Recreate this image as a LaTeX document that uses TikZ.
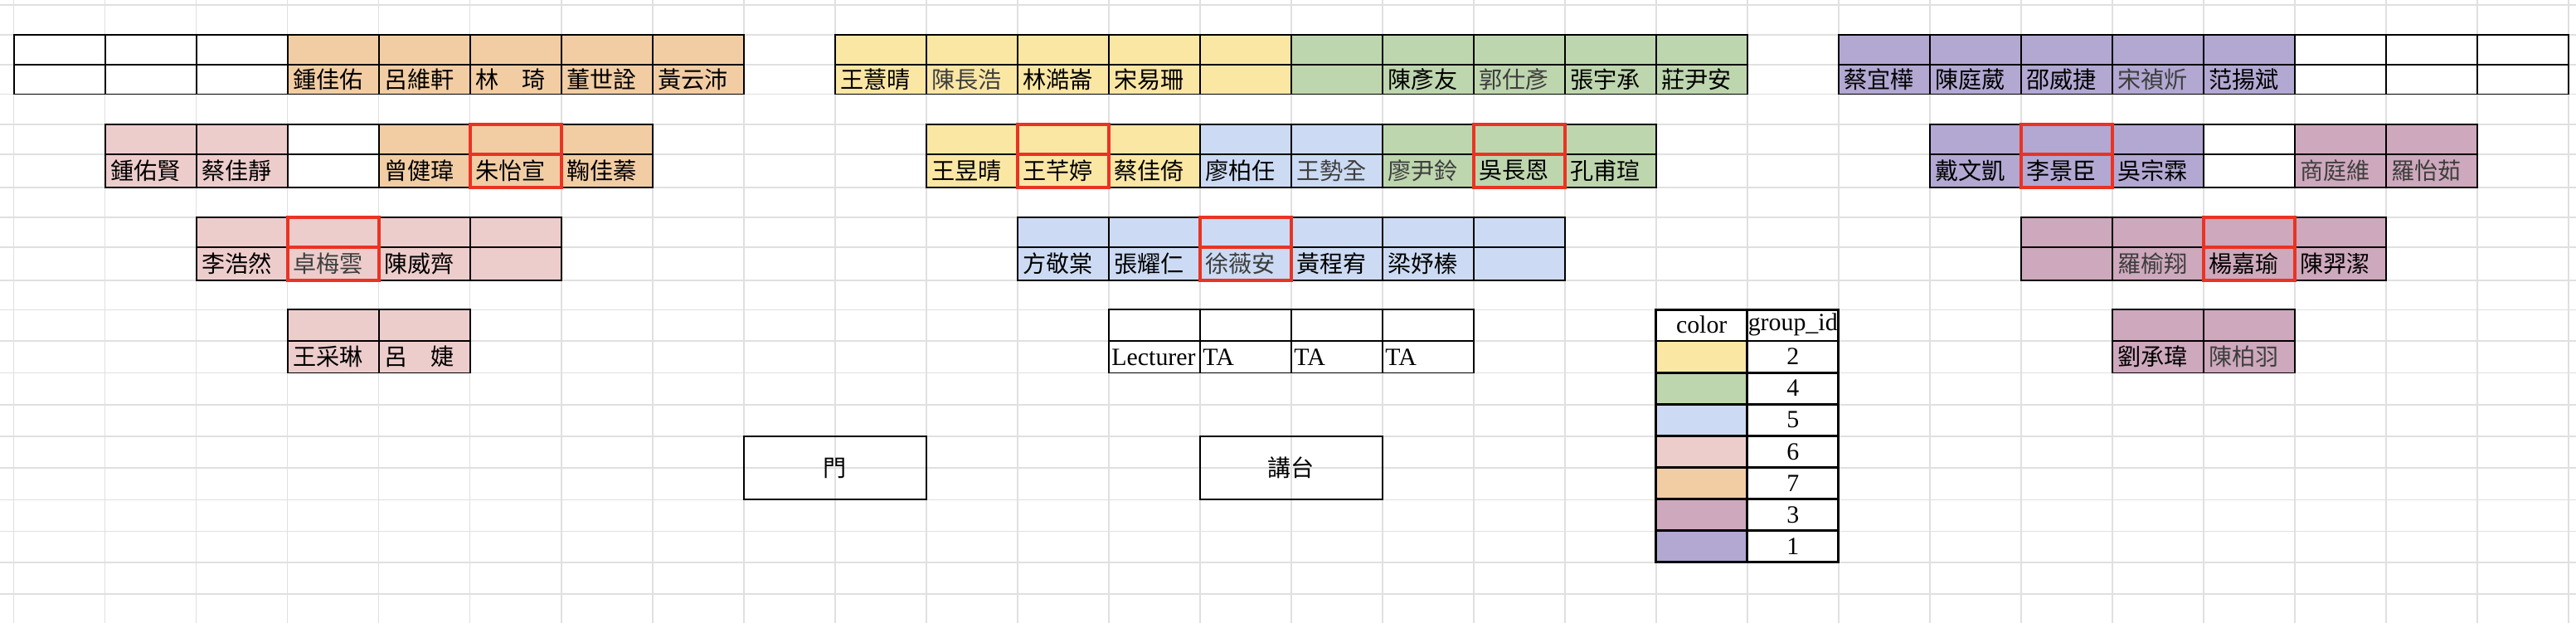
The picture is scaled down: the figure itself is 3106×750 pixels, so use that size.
\documentclass[tikz,border=0pt]{standalone}
\usepackage{fontspec}
\newfontfamily\cjk{Noto Sans CJK TC}
\newfontfamily\timesfont{Liberation Serif}
\definecolor{gridgrey}{RGB}{224,224,224}
\definecolor{pickred}{RGB}{234,51,35}
\definecolor{namegrey}{RGB}{62,62,62}
\definecolor{grpone}{RGB}{178,168,210}
\definecolor{grptwo}{RGB}{251,231,164}
\definecolor{grpthree}{RGB}{206,168,188}
\definecolor{grpfour}{RGB}{190,214,174}
\definecolor{grpfive}{RGB}{204,219,243}
\definecolor{grpsix}{RGB}{237,205,204}
\definecolor{grpseven}{RGB}{242,205,164}
\newcommand{\faint}[1]{\textcolor{namegrey}{#1}}
\tikzset{
  gridline/.style={draw=gridgrey,line width=0.45pt},
  seat/.style={draw=black,line width=0.55pt},
  pick/.style={draw=pickred,line width=1.25pt},
  keyline/.style={draw=black,line width=0.8pt},
  nametext/.style={anchor=west,inner sep=0pt,font=\cjk\fontsize{8}{9}\selectfont},
  roletext/.style={anchor=west,inner sep=0pt,font=\timesfont\fontsize{8.5}{9}\selectfont},
  keytext/.style={inner sep=0pt,font=\timesfont\fontsize{8.5}{9}\selectfont},
  roombox/.style={draw=black,line width=0.6pt,minimum width=2.2cm,minimum height=0.766cm,inner sep=0pt,font=\cjk\fontsize{8}{9}\selectfont}
}
\begin{document}
\begin{tikzpicture}[line cap=rect,line join=miter,x=0.01cm,y=-0.01cm]
\useasboundingbox (0,0) rectangle (3106,750);
% sheet grid
\foreach \k in {0,...,28}
\draw[gridline] ({16.7+110*\k},0) -- ({16.7+110*\k},750);
\foreach \y in {5.7,41.7,77.7,113.5,150,185.7,225.7,261.7,297.7,337.7,373.3,411,449.5,487.7,525.7,564,602.3,640.5,677.7,716}
\draw[gridline] (0,\y) -- (3106,\y);
% row 1
\foreach \c/\f/\n in {0/white/{},1/white/{},2/white/{},3/grpseven/鍾佳佑,4/grpseven/呂維軒,5/grpseven/林　琦,6/grpseven/董世詮,7/grpseven/黃云沛,
  9/grptwo/王薏晴,10/grptwo/\faint{陳長浩},11/grptwo/林澔崙,12/grptwo/宋易珊,13/grptwo/{},
  14/grpfour/{},15/grpfour/陳彥友,16/grpfour/\faint{郭仕彥},17/grpfour/張宇承,18/grpfour/莊尹安,
  20/grpone/蔡宜樺,21/grpone/陳庭葳,22/grpone/邵威捷,23/grpone/\faint{宋禎炘},24/grpone/范揚斌,25/white/{},26/white/{},27/white/{}}{
\filldraw[seat,fill=\f] ({16.7+110*\c},41.7) rectangle ++(110,36);
\filldraw[seat,fill=\f] ({16.7+110*\c},77.7) rectangle ++(110,35.8);
\node[nametext] (a\c) at ({22.7+110*\c},95.6) {\n};
}
% row 2
\foreach \c/\f/\n in {1/grpsix/鍾佑賢,2/grpsix/蔡佳靜,3/white/{},4/grpseven/曾健瑋,5/grpseven/朱怡宣,6/grpseven/鞠佳蓁,
  10/grptwo/王昱晴,11/grptwo/王芊婷,12/grptwo/蔡佳倚,13/grpfive/廖柏任,14/grpfive/\faint{王勢全},15/grpfour/\faint{廖尹鈴},16/grpfour/吳長恩,17/grpfour/孔甫瑄,
  21/grpone/戴文凱,22/grpone/李景臣,23/grpone/吳宗霖,24/white/{},25/grpthree/\faint{商庭維},26/grpthree/\faint{羅怡茹}}{
\filldraw[seat,fill=\f] ({16.7+110*\c},150) rectangle ++(110,35.7);
\filldraw[seat,fill=\f] ({16.7+110*\c},185.7) rectangle ++(110,40);
\node[nametext] (b\c) at ({22.7+110*\c},205.7) {\n};
}
% row 3
\foreach \c/\f/\n in {2/grpsix/李浩然,3/grpsix/\faint{卓梅雲},4/grpsix/陳威齊,5/grpsix/{},
  11/grpfive/方敬棠,12/grpfive/張耀仁,13/grpfive/\faint{徐薇安},14/grpfive/黃程宥,15/grpfive/梁妤榛,16/grpfive/{},
  22/grpthree/{},23/grpthree/\faint{羅榆翔},24/grpthree/楊嘉瑜,25/grpthree/陳羿潔}{
\filldraw[seat,fill=\f] ({16.7+110*\c},261.7) rectangle ++(110,36);
\filldraw[seat,fill=\f] ({16.7+110*\c},297.7) rectangle ++(110,40);
\node[nametext] (c\c) at ({22.7+110*\c},317.7) {\n};
}
% row 4
\foreach \c/\f/\n in {3/grpsix/王采琳,4/grpsix/呂　婕,23/grpthree/劉承瑋,24/grpthree/\faint{陳柏羽}}{
\filldraw[seat,fill=\f] ({16.7+110*\c},373.3) rectangle ++(110,37.7);
\filldraw[seat,fill=\f] ({16.7+110*\c},411) rectangle ++(110,38.5);
\node[nametext] (d\c) at ({22.7+110*\c},430.2) {\n};
}
% staff
\foreach \c/\n in {12/Lecturer,13/TA,14/TA,15/TA}{
\draw[seat] ({16.7+110*\c},373.3) rectangle ++(110,37.7);
\draw[seat] ({16.7+110*\c},411) rectangle ++(110,38.5);
\node[roletext] (t\c) at ({19.7+110*\c},431) {\n};
}
% chosen seats
\foreach \c in {5,11,16,22}{
\draw[pick] ({16.7+110*\c},150) rectangle ++(110,35.7);
\draw[pick] ({16.7+110*\c},185.7) rectangle ++(110,40);
}
\foreach \c in {3,13,24}{
\draw[pick] ({16.7+110*\c},261.7) rectangle ++(110,36);
\draw[pick] ({16.7+110*\c},297.7) rectangle ++(110,40);
}
% door and podium
\node[roombox] (door) at (1006.7,564) {門};
\node[roombox] (podium) at (1556.7,564) {講台};
% colour key
\draw[keyline] (1996.7,373.3) rectangle (2106.7,411);
\draw[keyline] (2106.7,373.3) rectangle (2216.7,411);
\node[keytext] (keyhead) at (2051.7,391) {color};
\node[keytext] (idhead) at (2161.7,391) {group\_id};
\foreach \f/\g [count=\i] in {grptwo/2,grpfour/4,grpfive/5,grpsix/6,grpseven/7,grpthree/3,grpone/1}{
\filldraw[keyline,fill=\f] (1996.7,{411+38.1*(\i-1)}) rectangle ++(110,38.1);
\draw[keyline] (2106.7,{411+38.1*(\i-1)}) rectangle ++(110,38.1);
\node[keytext] (key\g) at (2161.7,{430+38.1*(\i-1)}) {\g};
}
\end{tikzpicture}
\end{document}
